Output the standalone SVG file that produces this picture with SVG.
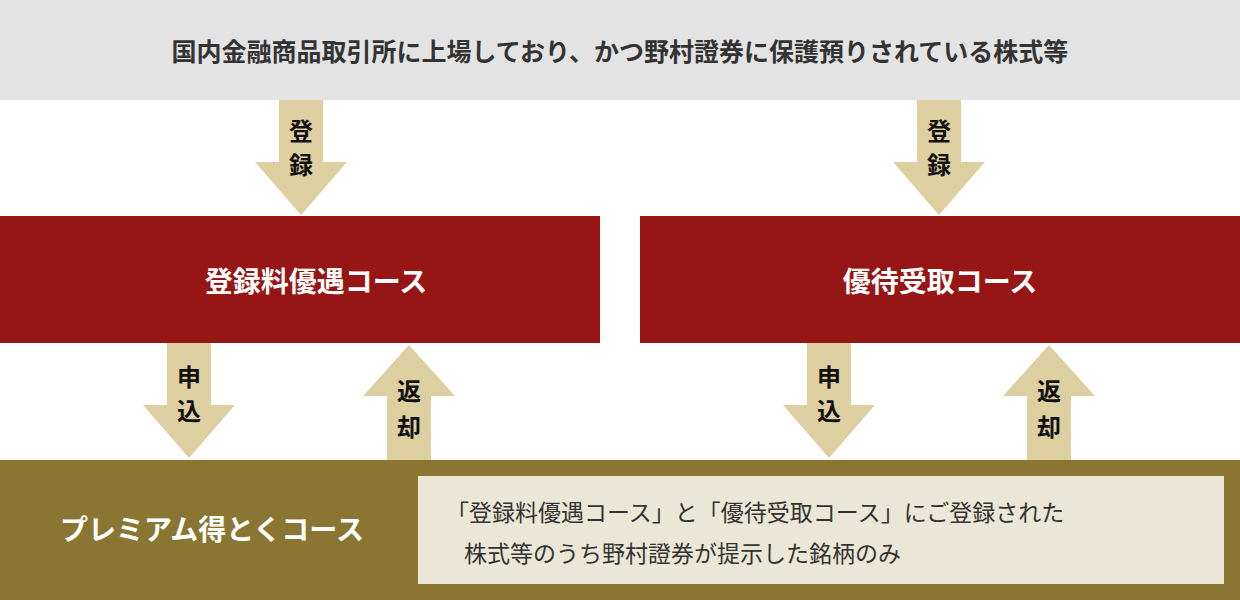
<svg xmlns="http://www.w3.org/2000/svg" width="1240" height="600" viewBox="0 0 1240 600">
<style>
text{font-family:"Noto Sans CJK JP","Noto Sans",sans-serif;font-weight:bold}
.arr{fill:#DDCF9F}
.al{font-size:24px;fill:#111;text-anchor:middle}
.bt{font-size:28px;fill:#fff;text-anchor:middle}
</style>
<defs>
<path id="down" d="M-22,0 H22 V62 H46 L0,115 L-46,62 H-22 Z"/>
<path id="up" d="M-22,115 H22 V51 H46 L0,0 L-46,51 H-22 Z"/>
</defs>
<g id="top"><rect x="0" y="0" width="1240" height="100" fill="#E3E3E3"/>
<text x="620" y="61" font-size="25" text-anchor="middle" fill="#333">国内金融商品取引所に上場しており、かつ野村證券に保護預りされている株式等</text></g>
<g id="connectors">
<use href="#down" class="arr" x="301" y="100"/><text class="al" x="301" y="140">登</text><text class="al" x="301" y="174">録</text>
<use href="#down" class="arr" x="939" y="100"/><text class="al" x="939" y="140">登</text><text class="al" x="939" y="174">録</text>
<use href="#down" class="arr" x="189" y="343"/><text class="al" x="189" y="386">申</text><text class="al" x="189" y="420">込</text>
<use href="#down" class="arr" x="829" y="343"/><text class="al" x="829" y="386">申</text><text class="al" x="829" y="420">込</text>
<use href="#up" class="arr" x="409" y="345"/><text class="al" x="409" y="400">返</text><text class="al" x="409" y="436">却</text>
<use href="#up" class="arr" x="1049" y="345"/><text class="al" x="1049" y="400">返</text><text class="al" x="1049" y="436">却</text>
</g>
<g id="course1"><rect x="0" y="216" width="600" height="127" fill="#961616"/><text class="bt" x="316" y="292">登録料優遇コース</text></g>
<g id="course2"><rect x="640" y="216" width="600" height="127" fill="#961616"/><text class="bt" x="940" y="292">優待受取コース</text></g>
<g id="premium"><rect x="0" y="460" width="1240" height="140" fill="#8A7632"/>
<text x="212" y="540" font-size="28" fill="#fff" text-anchor="middle">プレミアム得とくコース</text>
<rect x="418" y="476" width="806" height="108" fill="#EBE7D6"/>
<text x="446" y="521" font-size="23" fill="#333" style="font-weight:normal">「登録料優遇コース」と「優待受取コース」にご登録された</text>
<text x="464" y="562" font-size="23" fill="#333" style="font-weight:normal">株式等のうち野村證券が提示した銘柄のみ</text></g>
</svg>
